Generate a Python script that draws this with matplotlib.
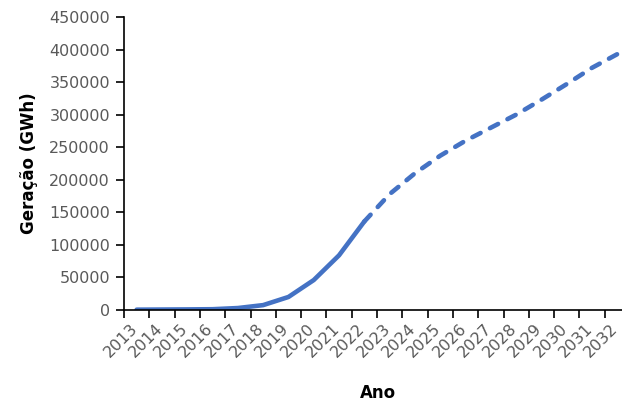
import matplotlib.pyplot as plt
import matplotlib.transforms as mtransforms
import numpy as np

anos = [str(a) for a in range(2013, 2033)]
geracao = [500, 700, 900, 1200, 3000, 7500, 20000, 46000, 84000, 136000,
           178000, 210000, 237000, 260000, 280000, 300000, 323000, 347000,
           372000, 393000]
ultimo_real = 2022  # solid up to here, dashed afterwards

cor = '#4472C4'
cinza = '#595959'

fig = plt.figure(figsize=(6.22, 4.07), dpi=100)
ax = fig.add_axes([124 / 622, 97 / 407, 506 / 622, 293 / 407])

x = np.arange(len(anos))
k = anos.index(str(ultimo_real))
ax.plot(x[:k + 1], geracao[:k + 1], color=cor, lw=3.3, solid_capstyle='round')
tracejado, = ax.plot(x[k:], geracao[k:], color=cor, lw=3.3, dash_capstyle='round')
tracejado.set_dashes((2.0, 2.3))

ax.set_xlim(-0.5, len(anos) - 0.5)
ax.set_ylim(0, 450000)
ax.set_yticks(np.arange(0, 450001, 50000))
ax.set_xticks(x)
ax.set_xticklabels(anos, rotation=45, ha='right', rotation_mode='anchor')
ax.set_xticks(np.arange(-0.5, len(anos), 1), minor=True)
ax.tick_params(axis='x', which='major', length=0, pad=8, labelsize=11.5, labelcolor=cinza)
ax.tick_params(axis='x', which='minor', length=6, width=1.2, direction='out')
ax.tick_params(axis='y', length=6, width=1.2, labelsize=11.5, labelcolor=cinza, pad=4)

# nudge the rotated year labels a little to the left, like the original
desloca = mtransforms.ScaledTranslation(-7 / 100, 0, fig.dpi_scale_trans)
for lab in ax.get_xticklabels():
    lab.set_transform(lab.get_transform() + desloca)

for s in ['top', 'right']:
    ax.spines[s].set_visible(False)
for s in ['left', 'bottom']:
    ax.spines[s].set_linewidth(1.2)

ax.set_ylabel('Geração (GWh)', fontsize=12, fontweight='bold', labelpad=8)
fig.text(378 / 622, 1 - 393 / 407, 'Ano', fontsize=12, fontweight='bold',
         ha='center', va='center')

plt.savefig('out.png', dpi=100)
